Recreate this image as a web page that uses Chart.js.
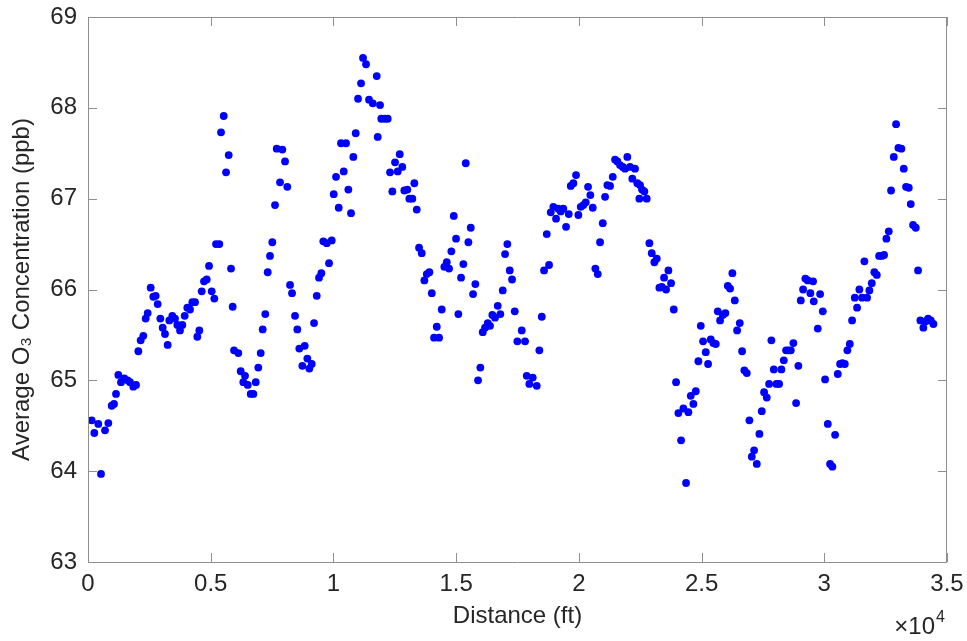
<!DOCTYPE html>
<html>
<head>
<meta charset="utf-8">
<script src="https://cdn.jsdelivr.net/npm/chart.js@4.4.1/dist/chart.umd.min.js"></script>
<style>
  html, body { margin: 0; padding: 0; background: #fff; }
  #ozoneChart { display: block; }
</style>
</head>
<body>
<canvas id="ozoneChart" width="967" height="641"></canvas>
<script>
// distance along route (ft)
const distanceFt = [
    150, 257, 420, 530, 693, 828, 965, 1060, 1141, 1236, 1345, 1480, 1617, 1711, 1847, 1956,
    2051, 2146, 2255, 2350, 2432, 2554, 2662, 2758, 2839, 2948, 3043, 3137, 3246, 3314, 3436, 3545,
    3640, 3749, 3843, 3940, 4047, 4157, 4252, 4360, 4454, 4536, 4633, 4727, 4837, 4931, 5040, 5147,
    5216, 5350, 5420, 5530, 5624, 5733, 5827, 5895, 5950, 6125, 6222, 6329, 6398, 6508, 6630, 6737,
    6834, 6939, 7037, 7118, 7224, 7322, 7416, 7510, 7620, 7689, 7824, 7918, 8028, 8121, 8232, 8313,
    8435, 8529, 8610, 8733, 8830, 8937, 9018, 9116, 9210, 9320, 9413, 9507, 9588, 9727, 9821, 9931,
    10012, 10106, 10216, 10309, 10420, 10514, 10608, 10717, 10811, 10908, 11003, 11125, 11206, 11329, 11451, 11603,
    11765, 11805, 11899, 11950, 12090, 12212, 12307, 12401, 12510, 12620, 12702, 12807, 12889, 13011, 13093, 13215,
    13297, 13395, 13489, 13598, 13705, 13803, 13909, 14007, 14100, 14210, 14304, 14413, 14519, 14617, 14711, 14805,
    14903, 14996, 15090, 15200, 15294, 15392, 15498, 15596, 15689, 15783, 15893, 15986, 16084, 16178, 16288, 16381,
    16475, 16585, 16695, 16801, 16899, 16993, 17086, 17184, 17278, 17388, 17494, 17673, 17808, 17876, 17983, 18121,
    18284, 18391, 18489, 18582, 18692, 18786, 18855, 18961, 19071, 19165, 19262, 19368, 19478, 19588, 19670, 19776,
    19885, 19980, 20077, 20183, 20281, 20375, 20468, 20566, 20672, 20770, 20864, 20974, 21068, 21161, 21271, 21381,
    21475, 21568, 21678, 21788, 21881, 21975, 22085, 22178, 22288, 22382, 22465, 22492, 22574, 22668, 22765, 22873,
    22970, 23077, 23175, 23281, 23378, 23472, 23554, 23648, 23757, 23867, 23961, 24055, 24165, 24259, 24368, 24462,
    24560, 24666, 24764, 24870, 24968, 25061, 25171, 25265, 25375, 25481, 25579, 25660, 25754, 25864, 25970, 26068,
    26162, 26255, 26353, 26447, 26557, 26651, 26744, 26842, 26948, 27046, 27140, 27250, 27356, 27453, 27547, 27657,
    27751, 27845, 27943, 28049, 28159, 28252, 28350, 28444, 28537, 28635, 28741, 28851, 28944, 29042, 29136, 29229,
    29327, 29433, 29543, 29571, 29735, 29829, 29939, 30033, 30143, 30237, 30330, 30440, 30550, 30644, 30737, 30835,
    30941, 31039, 31133, 31242, 31336, 31430, 31540, 31634, 31744, 31837, 31935, 32041, 32139, 32233, 32342, 32436,
    32530, 32627, 32721, 32831, 32925, 33019, 33141, 33238, 33332, 33442, 33523, 33617, 33727, 33821, 33915, 34037,
    34135, 34229, 34339, 34446
]

// average O3 (ppb)
const ozonePpb = [
    64.56, 64.42, 64.52, 63.97, 64.45, 64.53, 64.72, 64.74, 64.85, 65.06, 64.98, 65.02, 65.00, 64.98, 64.93, 64.95,
    65.32, 65.44, 65.49, 65.68, 65.74, 66.02, 65.92, 65.93, 65.84, 65.68, 65.58, 65.51, 65.39, 65.66, 65.71, 65.68,
    65.61, 65.55, 65.61, 65.71, 65.80, 65.78, 65.86, 65.86, 65.48, 65.55, 65.98, 66.09, 66.11, 66.26, 65.98, 65.90,
    66.50, 66.50, 67.73, 67.91, 67.29, 67.48, 66.23, 65.81, 65.33, 65.30, 65.10, 64.98, 65.05, 64.95, 64.85, 64.85,
    64.98, 65.14, 65.30, 65.56, 65.73, 66.19, 66.37, 66.52, 66.93, 67.55, 67.18, 67.54, 67.41, 67.13, 66.05, 65.96,
    65.71, 65.56, 65.35, 65.16, 65.38, 65.24, 65.13, 65.18, 65.63, 65.93, 66.13, 66.18, 66.53, 66.51, 66.29, 66.54,
    67.05, 67.24, 66.90, 67.61, 67.30, 67.61, 67.10, 66.84, 67.46, 67.72, 68.10, 68.27, 68.55, 68.48, 68.09, 68.05,
    68.35, 67.68, 68.03, 67.88, 67.88, 67.88, 67.29, 67.08, 67.40, 67.30, 67.49, 67.35, 67.09, 67.10, 67.00, 67.00,
    67.17, 66.88, 66.46, 66.40, 66.10, 66.17, 66.19, 65.96, 65.47, 65.59, 65.47, 65.78, 66.25, 66.30, 66.23, 66.42,
    66.81, 66.56, 65.73, 66.13, 66.28, 67.39, 66.52, 66.68, 65.95, 66.06, 65.00, 65.14, 65.53, 65.58, 65.63, 65.60,
    65.72, 65.69, 65.82, 65.73, 65.99, 66.39, 66.50, 66.21, 66.11, 65.76, 65.43, 65.55, 65.43, 65.05, 64.96, 65.03,
    64.94, 65.33, 65.70, 66.21, 66.61, 66.27, 66.85, 66.91, 66.78, 66.89, 66.86, 66.89, 66.69, 66.83, 67.14, 67.17,
    67.26, 66.82, 66.91, 66.93, 66.96, 67.13, 67.04, 66.90, 66.23, 66.17, 66.52, 66.73, 67.02, 67.15, 67.14, 67.24,
    67.43, 67.41, 67.37, 67.35, 67.33, 67.46, 67.35, 67.22, 67.33, 67.17, 67.00, 67.15, 67.10, 67.08, 67.00, 66.51,
    66.40, 66.30, 66.34, 66.02, 66.03, 66.13, 66.00, 66.21, 66.07, 65.78, 64.98, 64.64, 64.34, 64.69, 63.87, 64.65,
    64.83, 64.74, 64.88, 65.21, 65.60, 65.43, 65.31, 65.18, 65.45, 65.41, 65.40, 65.76, 65.66, 65.72, 65.74, 66.04,
    66.01, 66.18, 65.88, 65.55, 65.63, 65.32, 65.11, 65.08, 64.56, 64.16, 64.23, 64.08, 64.41, 64.66, 64.87, 64.81,
    64.96, 65.44, 65.12, 64.96, 64.96, 65.12, 65.22, 65.33, 65.33, 65.33, 65.41, 64.75, 65.16, 65.88, 66.00, 66.12,
    66.10, 65.96, 66.09, 65.87, 65.57, 65.95, 65.76, 65.01, 64.52, 64.08, 64.05, 64.40, 65.07, 65.18, 65.19, 65.18,
    65.33, 65.40, 65.66, 65.91, 65.80, 66.00, 65.91, 66.31, 65.91, 65.99, 66.07, 66.19, 66.16, 66.37, 66.37, 66.38,
    66.56, 66.64, 67.09, 67.46, 67.82, 67.56, 67.55, 67.33, 67.13, 67.12, 66.94, 66.71, 66.68, 66.21, 65.66, 65.58,
    65.65, 65.68, 65.66, 65.62
]

const xTickLabels = ['0', '0.5', '1', '1.5', '2', '2.5', '3', '3.5']
const yTicks = [63, 64, 65, 66, 67, 68, 69]
const xExponent = '4'

const FONT = "'Liberation Sans', Arial, Helvetica, sans-serif"
const TEXT_COLOR = '#262626'
const AXIS_COLOR = '#8f8f8f'

// matlab style box with inward ticks + x10^4 label
const boxPlugin = {
    id: 'matlabBox',
    afterDraw(chart) {
        const ctx = chart.ctx
        const area = chart.chartArea
        const xs = chart.scales.x
        const ys = chart.scales.y
        const tick = 9

        ctx.save()
        ctx.strokeStyle = AXIS_COLOR
        ctx.lineWidth = 1
        ctx.beginPath()
        ctx.rect(Math.round(area.left) + 0.5, Math.round(area.top) + 0.5,
            Math.round(area.right - area.left) - 1, Math.round(area.bottom - area.top))
        xs.ticks.forEach(t => {
            const px = Math.round(xs.getPixelForValue(t.value)) + 0.5
            ctx.moveTo(px, area.bottom)
            ctx.lineTo(px, area.bottom - tick)
            ctx.moveTo(px, area.top)
            ctx.lineTo(px, area.top + tick)
        })
        ys.ticks.forEach(t => {
            const py = Math.round(ys.getPixelForValue(t.value)) + 0.5
            ctx.moveTo(area.left, py)
            ctx.lineTo(area.left + tick, py)
            ctx.moveTo(area.right, py)
            ctx.lineTo(area.right - tick, py)
        })
        ctx.stroke()

        ctx.fillStyle = TEXT_COLOR
        ctx.textBaseline = 'alphabetic'
        ctx.textAlign = 'right'
        ctx.font = '24px ' + FONT
        ctx.fillText('\u00d710', area.right - 12, 634)
        ctx.textAlign = 'left'
        ctx.font = '16px ' + FONT
        ctx.fillText(xExponent, area.right - 11, 622)
        ctx.restore()
    }
}

var ctx = document.getElementById('ozoneChart').getContext('2d')
var ozoneChart = new Chart(ctx, {
    type: 'scatter',
    data: {
        datasets: [{
            label: 'Average O3',
            data: distanceFt.map((d, i) => ({ x: d, y: ozonePpb[i] })),
            backgroundColor: '#0000ff',
            borderWidth: 0,
            pointRadius: 3.9,
            pointHoverRadius: 3.9
        }]
    },
    options: {
        responsive: false,
        animation: false,
        events: [],
        layout: {
            padding: { left: 0, right: 20, top: 17, bottom: 0 }
        },
        plugins: {
            legend: { display: false },
            tooltip: { enabled: false }
        },
        scales: {
            x: {
                type: 'linear',
                min: 0,
                max: 35000,
                afterFit: s => { s.height = 79; s.paddingLeft = 0; s.paddingRight = 0 },
                afterBuildTicks: s => { s.ticks = xTickLabels.map((l, i) => ({ value: i * 5000 })) },
                ticks: {
                    callback: (v, i) => xTickLabels[i],
                    color: TEXT_COLOR,
                    font: { family: FONT, size: 24 },
                    padding: 8,
                    maxRotation: 0
                },
                grid: { display: false, drawTicks: false },
                border: { display: false },
                title: {
                    display: true,
                    text: 'Distance (ft)',
                    color: TEXT_COLOR,
                    font: { family: FONT, size: 24 },
                    padding: { top: 0, bottom: 10 }
                }
            },
            y: {
                min: 63,
                max: 69,
                afterFit: s => { s.width = 88; s.paddingTop = 0; s.paddingBottom = 0 },
                afterBuildTicks: s => { s.ticks = yTicks.map(v => ({ value: v })) },
                ticks: {
                    color: TEXT_COLOR,
                    font: { family: FONT, size: 24 },
                    padding: 11
                },
                grid: { display: false, drawTicks: false },
                border: { display: false },
                title: {
                    display: true,
                    text: 'Average O\u2083 Concentration (ppb)',
                    color: TEXT_COLOR,
                    font: { family: FONT, size: 24 },
                    padding: { top: 8, bottom: 0 }
                }
            }
        }
    },
    plugins: [boxPlugin]
})
</script>
</body>
</html>
